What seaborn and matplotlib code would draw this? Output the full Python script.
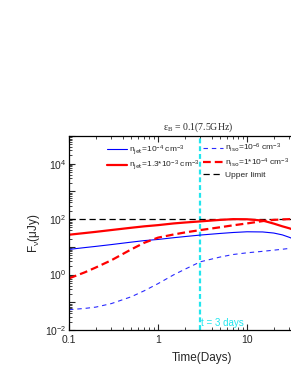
import numpy as np
import pandas as pd
import matplotlib
matplotlib.use("Agg")
import matplotlib.pyplot as plt
import matplotlib.ticker as mticker
from matplotlib.lines import Line2D
import seaborn as sns

# ---- data ----
t_days = [0.1, 0.15, 0.2, 0.3, 0.5, 0.7, 1, 1.5, 2, 3, 5, 7, 10, 15, 20, 25, 30, 40]
jet_1e4 = [8.1, 9.4, 10.4, 12.1, 14.8, 16.8, 18.5, 21.4, 23.5, 26.7, 30.5, 33, 35, 34.5, 31.5, 27, 22, 15]
jet_13e3 = [27.4, 31.5, 34.8, 40.5, 48.9, 55, 60.8, 70, 75.5, 83, 94, 100, 99, 89, 69, 55, 46.6, 33]
iso_1e6 = [0.054, 0.06, 0.067, 0.09, 0.158, 0.26, 0.47, 0.98, 1.55, 2.9, 4.3, 5.3, 6.1, 6.9, 7.6, 8.2, 8.8, 9.6]
iso_1e4 = [0.73, 1.2, 1.8, 3.3, 8.1, 14, 21.5, 28, 33, 40.4, 51, 60, 70, 85, 94, 98, 100, 103]
upper_limit = [100] * len(t_days)
t_mark = 3
x_ticks = [0.1, 1, 10]
x_tick_labels = ["0.1", "1", "10"]

labels = {
    "jet1": r"n$_{\rm jet}$=10$^{-4}$ cm$^{-3}$",
    "jet2": r"n$_{\rm jet}$=1.3*10$^{-3}$ cm$^{-3}$",
    "iso1": r"n$_{\rm iso}$=10$^{-6}$ cm$^{-3}$",
    "iso2": r"n$_{\rm iso}$=1*10$^{-4}$ cm$^{-3}$",
    "ul": "Upper limit",
}

sns.set_style("ticks")
plt.rcParams["font.family"] = ["Liberation Sans", "DejaVu Sans"]
plt.rcParams["mathtext.default"] = "regular"
plt.rcParams["xtick.direction"] = "in"
plt.rcParams["ytick.direction"] = "in"

W, H = 291, 376
fig = plt.figure(figsize=(W / 100, H / 100), dpi=100)
ax = fig.add_axes([69 / W, 1 - 330 / H, 267 / W, 194 / H])

df = pd.DataFrame({"t": t_days, "jet1": jet_1e4, "jet2": jet_13e3,
                   "iso1": iso_1e6, "iso2": iso_1e4, "ul": upper_limit})

styles = {
    "jet1": dict(color="#0000ff", linewidth=0.8, linestyle="-"),
    "jet2": dict(color="#ff0000", linewidth=1.6, linestyle="-"),
    "iso1": dict(color="#2b2bff", linewidth=0.8, linestyle=(0, (4, 3.5))),
    "iso2": dict(color="#ff0000", linewidth=1.6, linestyle=(0, (3.5, 1.8))),
    "ul": dict(color="black", linewidth=0.9, linestyle=(0, (5, 3))),
}
order = ["ul", "iso1", "jet1", "iso2", "jet2"]
for key in order:
    sns.lineplot(data=df, x="t", y=key, ax=ax, legend=False, **styles[key])

ax.axvline(t_mark, color="#22e6ee", linewidth=1.6, linestyle=(0, (2.2, 1.3)), zorder=1)
ax.text(t_mark * 1.02, 0.018, "t = 3 days", color="#22e6ee", fontsize=7,
        ha="left", va="center")

ax.set_xscale("log")
ax.set_yscale("log")
ax.set_xlim(0.1, 100)
ax.set_ylim(1e-2, 1e5)

ax.xaxis.set_major_locator(mticker.FixedLocator(x_ticks))
ax.xaxis.set_major_formatter(mticker.FixedFormatter(x_tick_labels))
ax.xaxis.set_minor_locator(mticker.LogLocator(base=10, subs=np.arange(2, 10), numticks=20))
ax.xaxis.set_minor_formatter(mticker.NullFormatter())

ax.yaxis.set_major_locator(mticker.FixedLocator([10.0 ** k for k in range(-2, 6)]))
def yfmt(v, pos):
    k = int(round(np.log10(v)))
    return r"10$^{%d}$" % k if k % 2 == 0 and k < 5 else ""
ax.yaxis.set_major_formatter(mticker.FuncFormatter(yfmt))
ax.yaxis.set_minor_locator(mticker.LogLocator(base=10, subs=np.arange(2, 10), numticks=20))
ax.yaxis.set_minor_formatter(mticker.NullFormatter())

ax.tick_params(which="major", length=4, width=0.8, labelsize=7.5, top=True, right=True)
ax.tick_params(axis="x", which="major", pad=3.5)
ax.tick_params(axis="y", which="major", pad=2)
ax.tick_params(which="minor", length=2, width=0.6, top=True, right=True)
for s in ax.spines.values():
    s.set_linewidth(0.9)
    s.set_color("black")

ax.set_xlabel("Time(Days)", fontsize=8.5, labelpad=5)
ax.set_ylabel(r"F$_{\nu}$($\mu$Jy)", fontsize=8.5, labelpad=2)

fig.text(198 / W, 1 - 127 / H, r"$\varepsilon_B$ = 0.1(7.5GHz)", fontsize=7,
         family=["Liberation Serif", "DejaVu Serif"], ha="center", va="center")

# legends (two columns)
def h(key):
    return Line2D([], [], **styles[key])

leg_kw = dict(loc="upper left", frameon=False, fontsize=6, handlelength=2.4,
              handletextpad=0.25, borderpad=0, borderaxespad=0)
fig.legend([h("jet1"), h("jet2")], [labels["jet1"], labels["jet2"]],
           bbox_to_anchor=(107 / W, 1 - 143.5 / H), labelspacing=0.3, **leg_kw)
fig.legend([h("iso1"), h("iso2"), h("ul")], [labels["iso1"], labels["iso2"], labels["ul"]],
           bbox_to_anchor=(203 / W, 1 - 142 / H), labelspacing=0.25, **leg_kw)

fig.savefig("out.png", dpi=100)
